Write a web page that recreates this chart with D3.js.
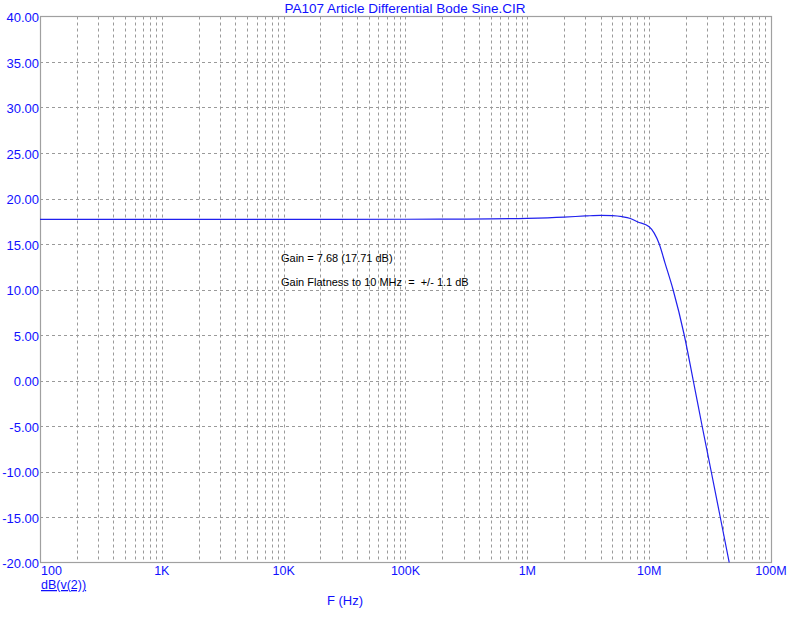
<!DOCTYPE html>
<html><head><meta charset="utf-8">
<script src="https://cdn.jsdelivr.net/npm/d3@7"></script>
<style>body{margin:0;background:#fff}svg{display:block}</style>
</head><body>
<svg id="c" width="800" height="618"></svg>
<script>
const title = "PA107 Article Differential Bode Sine.CIR";
const freqs = [100, 1e3, 1e4, 1e5, 3e5, 1e6, 2e6, 3e6, 4e6, 5e6, 6e6, 7e6, 8e6, 1e7, 1.1e7, 1.21e7, 1.35e7, 1.57e7, 1.94e7, 2.3e7, 2.72e7, 3.23e7, 3.83e7, 4.54e7];
const gainDb = [17.71, 17.71, 17.71, 17.72, 17.74, 17.82, 17.95, 18.08, 18.15, 18.12, 18.0, 17.8, 17.45, 16.9, 16.2, 15.0, 12.9, 10.0, 5.0, 0.0, -5.0, -10.0, -15.0, -20.0];
const xTickVals = [1e2, 1e3, 1e4, 1e5, 1e6, 1e7, 1e8];
const xTickLabels = ["100", "1K", "10K", "100K", "1M", "10M", "100M"];
const yTickVals = [40, 35, 30, 25, 20, 15, 10, 5, 0, -5, -10, -15, -20];
const yTickLabels = yTickVals.map(v => v.toFixed(2));
const annotations = ["Gain = 7.68 (17.71 dB)", "Gain Flatness to 10 MHz  =  +/- 1.1 dB"];
const yLabel = "dB(v(2))";
const xLabel = "F (Hz)";

const L = 40, R = 771, T = 16.5, B = 562.5;
const blue = "#1010ff";
const font = "'Liberation Sans', Arial, sans-serif";
const svg = d3.select("#c");
const x = d3.scaleLog().domain([1e2, 1e8]).range([L, R]);
const y = d3.scaleLinear().domain([-20, 40]).range([B, T]);

// grid
const minor = [];
for (let d = 2; d < 8; d++) for (let m = 1; m <= 9; m++) { const v = m * Math.pow(10, d); if (v > 1e2 && v < 1e8) minor.push(v); }
const g = svg.append("g").attr("stroke", "#9a9a9a").attr("stroke-width", 1).attr("stroke-dasharray", "3,3");
g.selectAll("line.v").data(minor).join("line")
  .attr("x1", d => Math.round(x(d)) + 0.5).attr("x2", d => Math.round(x(d)) + 0.5)
  .attr("y1", T).attr("y2", B);
g.selectAll("line.h").data(yTickVals.filter(v => v > -20 && v < 40)).join("line")
  .attr("y1", d => Math.round(y(d)) + 0.5).attr("y2", d => Math.round(y(d)) + 0.5)
  .attr("x1", L).attr("x2", R);

svg.append("rect").attr("x", L + 0.5).attr("y", T).attr("width", R - L).attr("height", B - T)
  .attr("fill", "none").attr("stroke", "#a0a0a0").attr("stroke-width", 1.2);

// curve
const pts = freqs.map((f, i) => [f, gainDb[i]]);
svg.append("path").datum(pts)
  .attr("d", d3.line().x(d => x(d[0])).y(d => y(d[1])).curve(d3.curveMonotoneX))
  .attr("fill", "none").attr("stroke", "#2020ee").attr("stroke-width", 1.2);

// y ticks
svg.append("g").selectAll("text").data(yTickVals).join("text")
  .attr("x", 39).attr("y", d => y(d) + 5.5).attr("text-anchor", "end")
  .attr("font-family", font).attr("font-size", 13).attr("fill", blue)
  .text((d, i) => yTickLabels[i]);

// x ticks
svg.append("g").selectAll("text").data(xTickVals).join("text")
  .attr("x", (d, i) => i === 0 ? L + 1 : x(d)).attr("y", 575)
  .attr("text-anchor", (d, i) => i === 0 ? "start" : "middle")
  .attr("font-family", font).attr("font-size", 12.5).attr("fill", blue)
  .text((d, i) => xTickLabels[i]);

svg.append("text").attr("x", 405).attr("y", 13).attr("text-anchor", "middle")
  .attr("font-family", font).attr("font-size", 13.5).attr("fill", blue).text(title);

svg.append("text").attr("x", 41).attr("y", 589)
  .attr("font-family", font).attr("font-size", 12.5).attr("fill", blue)
  .attr("text-decoration", "underline").text(yLabel);

svg.append("text").attr("x", 345).attr("y", 605).attr("text-anchor", "middle")
  .attr("font-family", font).attr("font-size", 13).attr("fill", blue).text(xLabel);

svg.append("g").selectAll("text").data(annotations).join("text")
  .attr("x", 281).attr("y", (d, i) => 262 + i * 24)
  .attr("font-family", font).attr("font-size", 11).attr("fill", "#000")
  .attr("xml:space", "preserve").style("white-space", "pre").text(d => d);
</script>
</body></html>
